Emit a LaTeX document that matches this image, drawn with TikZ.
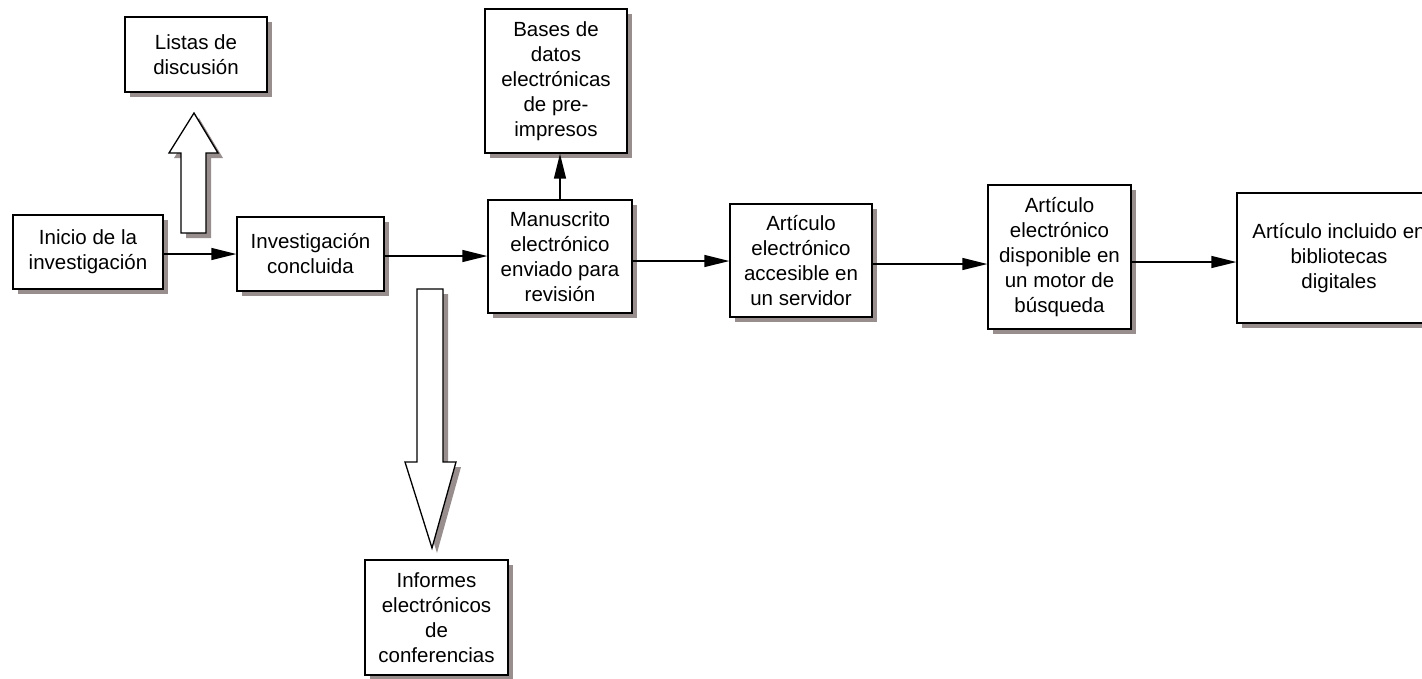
\documentclass[tikz,border=0pt]{standalone}
\usepackage{fontspec}
\setmainfont{Liberation Sans}
\usetikzlibrary{arrows.meta,shadows}
\definecolor{shadowgray}{RGB}{152,142,142}
\tikzset{
  boxshadow/.style={drop shadow={shadow xshift=5pt, shadow yshift=-5pt, fill=shadowgray, opacity=1}},
  box/.style={draw, line width=1.3pt, fill=white, align=center, inner sep=2pt,
    font=\fontsize{20.5}{25}\selectfont, boxshadow},
  link/.style={line width=1.5pt, -{Triangle[length=25pt,width=12pt]}},
  blockarrow/.style={draw, line width=1.3pt, fill=white, line join=miter, boxshadow}
}
\begin{document}
\begin{tikzpicture}[x=1pt,y=-1pt]
  \useasboundingbox (0,0) rectangle (1422,678);

  % boxes
  \node[box, minimum width=142pt, minimum height=75pt]  (listas) at (196,54.5)   {Listas de\\discusión};
  \node[box, minimum width=150pt, minimum height=74pt]  (inicio) at (88,252)     {Inicio de la\\investigación};
  \node[box, minimum width=147pt, minimum height=74pt]  (invest) at (310.5,254)  {Investigación\\concluida};
  \node[box, minimum width=144pt, minimum height=113pt] (manu)   at (560,256.5)  {Manuscrito\\electrónico\\enviado para\\revisión};
  \node[box, minimum width=142pt, minimum height=144pt] (bases)  at (556,81)     {Bases de\\datos\\electrónicas\\de pre-\\impresos};
  \node[box, minimum width=142pt, minimum height=113pt] (acces)  at (801,260.5)  {Artículo\\electrónico\\accesible en\\un servidor};
  \node[box, minimum width=143pt, minimum height=144pt] (motor)  at (1059.5,257) {Artículo\\electrónico\\disponible en\\un motor de\\búsqueda};
  \node[box, minimum width=204pt, minimum height=130pt] (biblio) at (1339,258)   {Artículo incluido en\\bibliotecas\\digitales};
  \node[box, minimum width=143pt, minimum height=115pt] (inform) at (436.5,617.5) {Informes\\electrónicos\\de\\conferencias};

  % hollow block arrows
  \path[blockarrow] (181,233) -- (181,153) -- (169,153) -- (194,113) -- (218,153)
    -- (206,153) -- (206,233) -- cycle;
  \path[blockarrow] (417,289) -- (443,289) -- (443,462) -- (456,462) -- (432,548)
    -- (405,462) -- (417,462) -- cycle;

  % connectors
  \draw[link] ([yshift=-2pt]inicio.east) -- ([yshift=-2pt]inicio.east -| invest.west);
  \draw[link] ([yshift=-2pt]invest.east) -- ([yshift=-2pt]invest.east -| manu.west);
  \draw[link] ([yshift=-4.5pt]manu.east) -- ([yshift=-4.5pt]manu.east -| acces.west);
  \draw[link] ([yshift=-3.5pt]acces.east) -- ([yshift=-3.5pt]acces.east -| motor.west);
  \draw[link] ([yshift=-5pt]motor.east) -- ([yshift=-5pt]motor.east -| biblio.west);
  \draw[link] (manu.north) -- (manu.north |- bases.south);
\end{tikzpicture}
\end{document}
